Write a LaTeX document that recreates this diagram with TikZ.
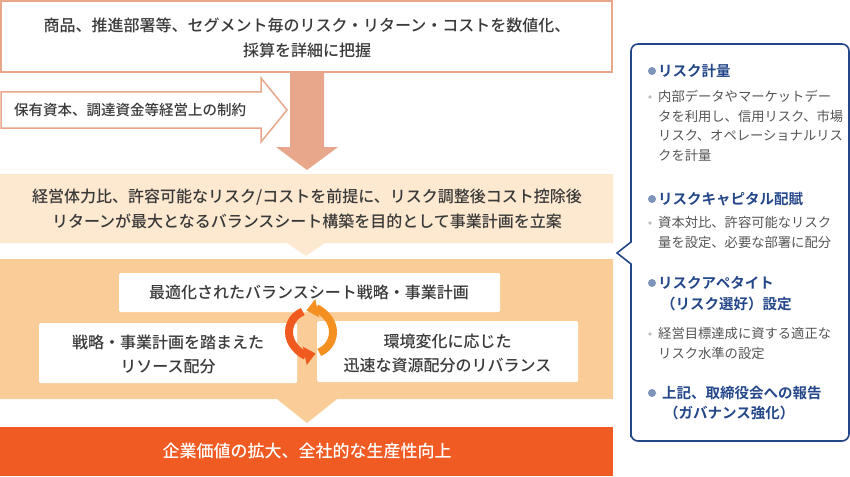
\documentclass[tikz,border=0pt]{standalone}
\usepackage{fontspec}
\setmainfont{Noto Sans CJK JP}[BoldFont={Noto Sans CJK JP Bold}]
\newfontfamily\medfont{Noto Sans CJK JP Medium}
\usetikzlibrary{arrows.meta,calc}
\definecolor{salmon}{HTML}{E8A68A}
\definecolor{arrowfill}{HTML}{E8A68A}
\definecolor{peachlight}{HTML}{FDE8D0}
\definecolor{peach}{HTML}{FACC97}
\definecolor{orangebar}{HTML}{F05A23}
\definecolor{navy}{HTML}{24478A}
\definecolor{dotblue}{HTML}{7E93B8}
\definecolor{txt}{HTML}{3A3A3A}
\definecolor{subtxt}{HTML}{555555}
\definecolor{cycA}{HTML}{F05A1E}
\definecolor{cycB}{HTML}{F3901F}
\tikzset{
  mainlabel/.style={text=txt, align=center, inner sep=0pt, font=\medfont\fontsize{16}{25}\selectfont},
  boxlabel/.style={text=txt, align=center, inner sep=0pt, font=\medfont\fontsize{16}{24}\selectfont},
  whitebox/.style={fill=white, draw=none, rounded corners=1.5pt},
  headtext/.style={text=navy, anchor=west, inner sep=0pt, font=\bfseries\fontsize{14.5}{20}\selectfont},
  subtext/.style={text=subtxt, anchor=north west, align=left, inner sep=0pt, font=\fontsize{13.3}{19.5}\selectfont},
  bigdot/.style={fill=dotblue, draw=none},
  smalldot/.style={fill=black!25, draw=none},
}
\begin{document}
\begin{tikzpicture}[x=1pt,y=-1pt]
\useasboundingbox (0,0) rectangle (850,476);

% top box
\draw[salmon, line width=2pt, fill=white] (1,1) rectangle (612,72);
\node[mainlabel] (top) at (307,38) {商品、推進部署等、セグメント毎のリスク・リターン・コストを数値化、\\採算を詳細に把握};

% left outline arrow
\draw[salmon, line width=1.5pt, fill=white, line join=miter]
  (1,92) -- (261,92) -- (261,78) -- (287,110) -- (261,142) -- (261,128) -- (1,128) -- cycle;
\node[text=txt, anchor=west, inner sep=0pt, font=\medfont\fontsize{14.5}{18}\selectfont] (constraint) at (14,110) {保有資本、調達資金等経営上の制約};

% down arrow
\fill[arrowfill] (290,73) -- (324,73) -- (324,147) -- (338,147) -- (307,170) -- (276,147) -- (290,147) -- cycle;

% band 2
\fill[peachlight] (0,174) -- (613,174) -- (613,243) -- (325,243) -- (306,256) -- (287,243) -- (0,243) -- cycle;
\node[mainlabel] (plan) at (307,208.5) {経営体力比、許容可能なリスク/コストを前提に、リスク調整後コスト控除後\\リターンが最大となるバランスシート構築を目的として事業計画を立案};

% band 3
\fill[peach] (0,259) -- (613,259) -- (613,399) -- (337,399) -- (307,423) -- (277,399) -- (0,399) -- cycle;
\path[whitebox] (119,273) rectangle (500,312);
\node[boxlabel] (bs) at (309,292.5) {最適化されたバランスシート戦略・事業計画};
\path[whitebox] (39,323) rectangle (297,383);
\node[boxlabel] (alloc) at (168,354) {戦略・事業計画を踏まえた\\リソース配分};
\path[whitebox] (317,321) rectangle (578,382);
\node[boxlabel] (rebal) at (447.5,353) {環境変化に応じた\\迅速な資源配分のリバランス};

% cycle arrows
\coordinate (cc) at (311,332);
\draw[cycA, line width=8pt, -{Triangle[width=18pt,length=11pt]}]
  ($(cc)+(248:22)$) arc[start angle=248, end angle=78, radius=22];
\draw[cycB, line width=8pt, -{Triangle[width=18pt,length=11pt]}]
  ($(cc)+(68:22)$) arc[start angle=68, end angle=-102, radius=22];

% bottom bar
\fill[orangebar] (0,427) rectangle (613,476);
\node[text=white, inner sep=0pt, font=\medfont\fontsize{17}{20}\selectfont] (value) at (307,451) {企業価値の拡大、全社的な生産性向上};

% callout
\draw[navy, line width=1.6pt, fill=white, line join=miter]
  (631,60) [rounded corners=7pt] -- (631,44) -- (849,44) -- (849,441) -- (631,441) -- (631,430)
  [sharp corners] -- (631,264) -- (617,253) -- (631,242) -- cycle;

\fill[bigdot] (652,71) circle (4);
\node[headtext] (h1) at (658,71) {リスク計量};
\fill[smalldot] (650,97) circle (1.8);
\node[subtext] (s1) at (658,90.3) {内部データやマーケットデー\\タを利用し、信用リスク、市場\\リスク、オペレーショナルリス\\クを計量};

\fill[bigdot] (652,199) circle (4);
\node[headtext] (h2) at (658,199) {リスクキャピタル配賦};
\fill[smalldot] (650,223) circle (1.8);
\node[subtext] (s2) at (658,216.3) {資本対比、許容可能なリスク\\量を設定、必要な部署に配分};

\fill[bigdot] (652,283) circle (4);
\node[headtext] (h3) at (658,283) {リスクアペタイト};
\node[headtext] (h3b) at (661,304) {（リスク選好）設定};
\fill[smalldot] (650,334) circle (1.8);
\node[subtext] (s3) at (658,327.3) {経営目標達成に資する適正な\\リスク水準の設定};

\fill[bigdot] (652,393) circle (4);
\node[headtext] (h4) at (662,393) {上記、取締役会への報告};
\node[headtext] (h4b) at (664,413) {（ガバナンス強化）};
\end{tikzpicture}
\end{document}
